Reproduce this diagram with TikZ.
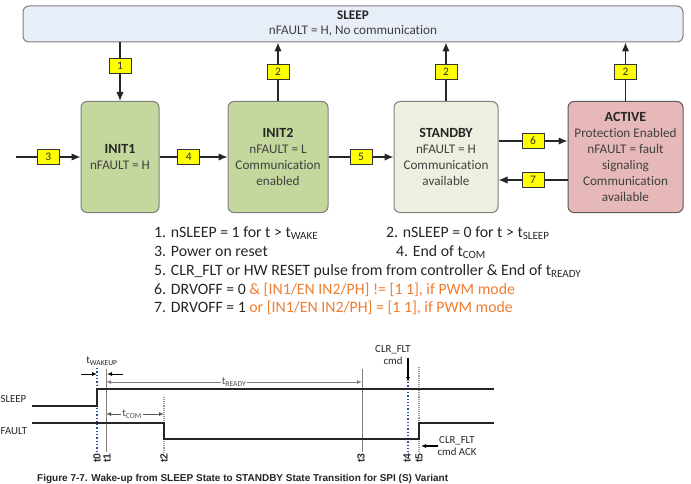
\documentclass[tikz,border=0pt]{standalone}
\usepackage{fontspec}
\setmainfont{Carlito}[Ligatures=NoCommon]
\newfontfamily\capfont{Liberation Sans}
\usetikzlibrary{arrows.meta, positioning}

\definecolor{sleepfill}{HTML}{E8EEF7}
\definecolor{initfill}{HTML}{C4D79C}
\definecolor{stbyfill}{HTML}{EBF1DE}
\definecolor{actfill}{HTML}{E6B9B8}
\definecolor{boxline}{HTML}{7F7F7F}
\definecolor{bodytxt}{HTML}{404040}
\definecolor{condtxt}{HTML}{ED7D31}
\definecolor{dotblue}{HTML}{2E4E9E}
\definecolor{lblyellow}{HTML}{FFFF00}

\newcommand{\statetitle}[1]{{\fontsize{14}{16}\selectfont\bfseries\color{black!85}#1}}

\tikzset{
  state/.style={draw=boxline, line width=1pt, rounded corners=6pt,
    minimum height=111pt, align=center, text=bodytxt,
    font=\fontsize{13.2}{16}\selectfont},
  lbl/.style={draw=black!80, fill=lblyellow, line width=0.8pt,
    minimum width=22pt, minimum height=15pt, inner sep=0pt,
    text=black!80, font=\fontsize{11.5}{11}\selectfont},
  tr/.style={->, line width=1.3pt, black!85},
  note/.style={anchor=base west, inner sep=0pt, text=black!85,
    font=\fontsize{15.8}{17}\selectfont},
  sig/.style={line width=1.3pt, black!85},
  tline/.style={line width=0.9pt, gray},
  tdot/.style={line width=1.1pt, gray!80, densely dotted},
  bdot/.style={line width=1.3pt, dotblue, dotted},
  tlab/.style={rotate=90, inner sep=0pt, text=black!80,
    font=\capfont\fontsize{10.5}{10}\selectfont\bfseries},
  small/.style={-{Latex[length=5pt,width=4pt]}, line width=0.9pt},
  wfont/.style={inner sep=0pt, text=black!85, font=\fontsize{10.8}{12.5}\selectfont}
}

\begin{document}
\begin{tikzpicture}[x=1pt, y=-1pt, >={Latex[length=9pt,width=7.5pt]}]
  \useasboundingbox (0,0) rectangle (691,484);

  % States
  \node[state, fill=sleepfill, minimum width=660pt, minimum height=36pt,
    font=\fontsize{13.2}{15}\selectfont] (sleep) at (353,24)
    {{\bfseries\color{black!85}SLEEP}\\nFAULT = H, No communication};
  \node[state, fill=initfill, minimum width=78pt] (init1) at (120,157)
    {\statetitle{INIT1}\\nFAULT = H};
  \node[state, fill=initfill, minimum width=100pt] (init2) at (278,157)
    {\statetitle{INIT2}\\nFAULT = L\\Communication\\enabled};
  \node[state, fill=stbyfill, minimum width=104pt] (standby) at (446,157)
    {\statetitle{STANDBY}\\nFAULT = H\\Communication\\available};
  \node[state, fill=actfill, draw=black!65, minimum width=115pt] (active) at (625.5,157)
    {\statetitle{ACTIVE}\\Protection Enabled\\nFAULT = fault\\signaling\\Communication\\available};

  % Transitions
  \coordinate (pwr) at (16,157);
  \draw[tr] (sleep.south -| init1) -- node[lbl, pos=0.4] (l1) {1} (init1);
  \draw[tr] (init2) -- node[lbl] (l2a) {2} (init2 |- sleep.south);
  \draw[tr] (standby) -- node[lbl] (l2b) {2} (standby |- sleep.south);
  \draw[tr] (active) -- node[lbl] (l2c) {2} (active |- sleep.south);
  \draw[tr] (pwr) -- node[lbl] (l3) {3} (init1);
  \draw[tr] (init1) -- node[lbl, pos=0.43] (l4) {4} (init2);
  \draw[tr] (init2) -- node[lbl] (l5) {5} (standby);
  \draw[tr] ([yshift=16pt]standby.east) -- node[lbl] (l6) {6}
    ([yshift=16pt]standby.east -| active.west);
  \draw[tr] ([yshift=-23pt]active.west) -- node[lbl] (l7) {7}
    ([yshift=-23pt]active.west -| standby.east);

  % Conditions
  \node[note] (c1) at (154,237) {1. nSLEEP = 1 for t > t\textsubscript{WAKE}};
  \node[note] (c2) at (386,237) {2. nSLEEP = 0 for t > t\textsubscript{SLEEP}};
  \node[note] (c3) at (154,256) {3. Power on reset};
  \node[note] (c4) at (396,256) {4. End of t\textsubscript{COM}};
  \node[note] (c5) at (154,275) {5. CLR\_FLT or HW RESET pulse from from controller \& End of t\textsubscript{READY}};
  \node[note] (c6) at (154,294) {6. DRVOFF = 0 {\color{condtxt}\& [IN1/EN IN2/PH] != [1 1], if PWM mode}};
  \node[note] (c7) at (154,312) {7. DRVOFF = 1 {\color{condtxt}or [IN1/EN IN2/PH] = [1 1], if PWM mode}};

  % Timing diagram
  \coordinate (t0a) at (97,368);   \coordinate (t0b) at (97,452);
  \coordinate (t1a) at (106,369);  \coordinate (t1b) at (106,452);
  \coordinate (t2a) at (164,397);  \coordinate (t2b) at (164,452);
  \coordinate (t3a) at (362,369);  \coordinate (t3b) at (362,452);
  \coordinate (t4a) at (408,382);  \coordinate (t4b) at (408,452);
  \coordinate (t5a) at (419,367);  \coordinate (t5b) at (419,452);
  \draw[tline] (t1a) -- (t1b);
  \draw[tline] (t3a) -- (t3b);
  \draw[tdot] (t2a) -- (t2b);
  \draw[tdot] (t5a) -- (t5b);
  \draw[bdot] (t0a) -- (t0b);
  \draw[bdot] (t4a) -- (t4b);

  \node[tlab] (n0) at (97,458) {t0};
  \node[tlab] (n1) at (107,458) {t1};
  \node[tlab] (n2) at (164,458) {t2};
  \node[tlab] (n3) at (361,458) {t3};
  \node[tlab] (n4) at (407,458) {t4};
  \node[tlab] (n5) at (419,458) {t5};

  % signals
  \node[wfont, anchor=west] (sname) at (0.5,399) {SLEEP};
  \node[wfont, anchor=west] (fname) at (0.5,431) {FAULT};
  \draw[sig] (32,406) -- (97,406) -- (97,389) -- (494,389);
  \draw[sig] (32,423) -- (164,423) -- (164,439) -- (419,439) -- (419,423) -- (494,423);

  % timing marks
  \node[wfont] (wk) at (102,361) {t\textsubscript{WAKEUP}};
  \coordinate (wkl) at (81,374);
  \coordinate (wkr) at (123,374);
  \draw[small] (wkl) -- (wkl -| t0a);
  \draw[small] (wkr) -- ([xshift=1pt]wkr -| t1a);
  \coordinate (rdy) at (106,382);
  \draw[small, gray, {Latex[length=5pt,width=4pt]}-{Latex[length=5pt,width=4pt]}]
    (rdy) -- node[fill=white, wfont, inner sep=1pt, text=black!70] (rlab) {t\textsubscript{READY}} (rdy -| t3a);
  \coordinate (com) at (106,414);
  \draw[small, gray!70!black, {Latex[length=5pt,width=4pt]}-{Latex[length=5pt,width=4pt]}]
    (com) -- node[fill=white, wfont, inner sep=1pt, pos=0.45, text=black!70] (clab) {t\textsubscript{COM}} (com -| t2a);

  \node[wfont, align=center] (cmd) at (393,355) {CLR\_FLT\\cmd};
  \coordinate (cmdtop) at (408,358);
  \draw[small, line width=1.1pt] (cmdtop) -- (t4a);
  \node[wfont, align=center] (ack) at (457,446) {CLR\_FLT\\cmd ACK};
  \coordinate (ackt) at (438,446);
  \draw[small, line width=1.1pt] (ackt) -- ([xshift=2pt]ackt -| t5a);

  % Caption
  \node[anchor=base west, inner sep=0pt, font=\capfont\fontsize{10}{11}\selectfont\bfseries, text=black!85]
    (cap) at (37,481) {Figure 7-7. Wake-up from SLEEP State to STANDBY State Transition for SPI (S) Variant};
\end{tikzpicture}
\end{document}
